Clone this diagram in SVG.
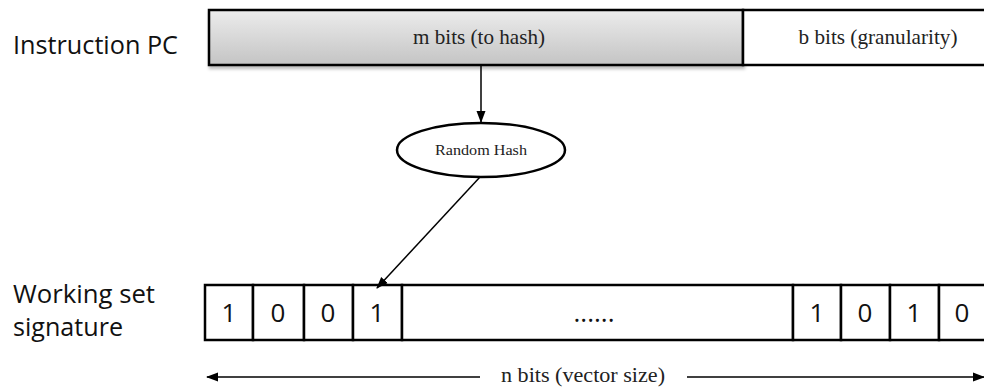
<svg xmlns="http://www.w3.org/2000/svg" width="984" height="388" viewBox="0 0 984 388">
<defs>
<linearGradient id="g" x1="0" y1="0" x2="0" y2="1">
<stop offset="0" stop-color="#ececec"/>
<stop offset="1" stop-color="#c4c4c4"/>
</linearGradient>
<marker id="ah" markerWidth="12" markerHeight="12" refX="11" refY="6" orient="auto" markerUnits="userSpaceOnUse">
<path d="M0,1.5 L12,6 L0,10.5 Z" fill="#000"/>
</marker>
<filter id="sh" x="-5%" y="-20%" width="110%" height="150%">
<feDropShadow dx="1" dy="3" stdDeviation="1.5" flood-color="#000" flood-opacity="0.25"/>
</filter>
</defs>
<style>
.lbl{font-family:"Open Sans","Liberation Sans",sans-serif;font-size:25px;fill:#111}
.ser{font-family:"Liberation Serif",serif;fill:#222}
.cell{fill:#fff;stroke:#000;stroke-width:2.5}
.dig{font-family:"Open Sans","Liberation Sans",sans-serif;font-size:26px;fill:#111;text-anchor:middle}
.ln{stroke:#000;stroke-width:1.5;fill:none}
</style>
<g id="labels">
<text class="lbl" x="13" y="54" textLength="165" lengthAdjust="spacingAndGlyphs">Instruction PC</text>
<text class="lbl" x="13" y="303" textLength="142" lengthAdjust="spacingAndGlyphs">Working set</text>
<text class="lbl" x="13" y="336" textLength="110" lengthAdjust="spacingAndGlyphs">signature</text>
</g>
<g id="pc">
<rect x="209" y="10" width="534" height="55" fill="url(#g)" stroke="#000" stroke-width="2.5" filter="url(#sh)"/>
<rect x="743" y="10" width="245" height="55" fill="#fff" stroke="#000" stroke-width="2.5"/>
<text class="ser" x="479" y="44" font-size="21" text-anchor="middle" textLength="132" lengthAdjust="spacingAndGlyphs">m bits (to hash)</text>
<text class="ser" x="878" y="44" font-size="21" text-anchor="middle" textLength="159" lengthAdjust="spacingAndGlyphs">b bits (granularity)</text>
</g>
<g id="hash">
<ellipse cx="481" cy="150" rx="84" ry="27" fill="#fff" stroke="#000" stroke-width="2.5"/>
<text class="ser" x="481" y="155" font-size="15" text-anchor="middle" textLength="92" lengthAdjust="spacingAndGlyphs">Random Hash</text>
</g>
<g id="signature">
<rect class="cell" x="205" y="285" width="48" height="55"/>
<rect class="cell" x="253" y="285" width="51" height="55"/>
<rect class="cell" x="304" y="285" width="49" height="55"/>
<rect class="cell" x="353" y="285" width="49" height="55"/>
<rect class="cell" x="402" y="285" width="391" height="55"/>
<rect class="cell" x="793" y="285" width="48" height="55"/>
<rect class="cell" x="841" y="285" width="49" height="55"/>
<rect class="cell" x="890" y="285" width="49" height="55"/>
<rect class="cell" x="939" y="285" width="49" height="55"/>
<text class="dig" x="229" y="322">1</text>
<text class="dig" x="278" y="322">0</text>
<text class="dig" x="328" y="322">0</text>
<text class="dig" x="377" y="322">1</text>
<text class="dig" x="594" y="322">......</text>
<text class="dig" x="817" y="322">1</text>
<text class="dig" x="865" y="322">0</text>
<text class="dig" x="914" y="322">1</text>
<text class="dig" x="962" y="322">0</text>
</g>
<g id="size">
<text class="ser" x="583" y="382" font-size="20" text-anchor="middle" textLength="164" lengthAdjust="spacingAndGlyphs">n bits (vector size)</text>
</g>
<g id="connectors">
<line class="ln" x1="481" y1="66" x2="481" y2="122" marker-end="url(#ah)"/>
<line class="ln" x1="480" y1="177" x2="377" y2="288" marker-end="url(#ah)"/>
<line class="ln" x1="480" y1="377" x2="207" y2="377" marker-end="url(#ah)"/>
<line class="ln" x1="687" y1="377" x2="984" y2="377" marker-end="url(#ah)"/>
</g>
</svg>
